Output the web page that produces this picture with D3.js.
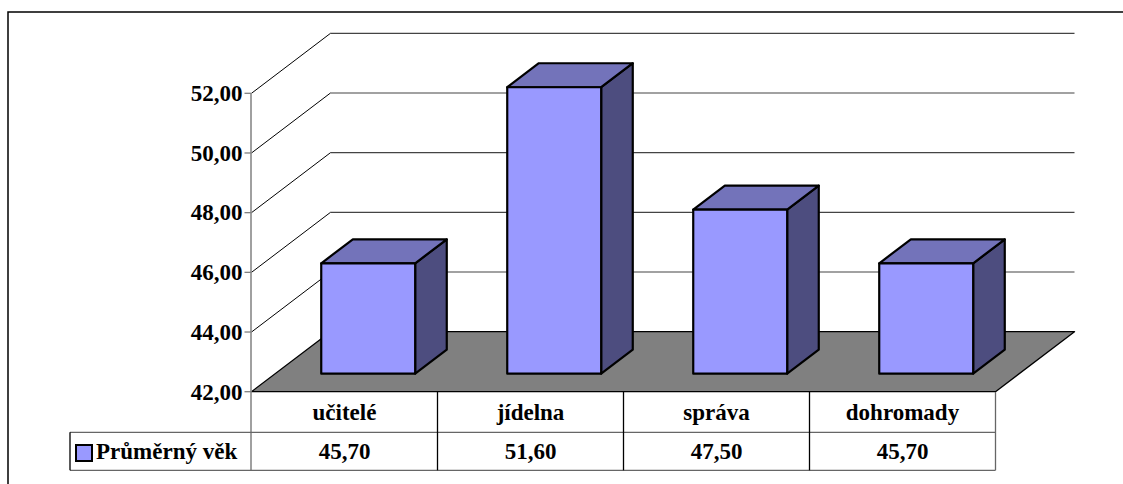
<!DOCTYPE html>
<html>
<head>
<meta charset="utf-8">
<script src="https://cdn.jsdelivr.net/npm/d3@7"></script>
<style>
  html, body { margin: 0; padding: 0; background: #fff; }
  svg { display: block; }
</style>
</head>
<body>
<svg id="chart" width="1123" height="484"></svg>
<script>
// ---- data ----
const categories = ["učitelé", "jídelna", "správa", "dohromady"];
const values = [45.7, 51.6, 47.5, 45.7];
const seriesName = "Průměrný věk";
const tickValues = [42, 44, 46, 48, 50, 52];
const valueLabels = ["45,70", "51,60", "47,50", "45,70"];

// ---- layout ----
const FONT = "Liberation Serif";
const svg = d3.select("#chart");
const W = 1123, H = 484;
const plotLeft = 251.5, plotRight = 995.5;
const depthDX = 79, depthDY = -60;      // full depth offset of the 3D box
const barD0 = 0.3, barD1 = 0.7;         // bar front/back depth fraction
const tableTop = 392, rowSep = 432.3, tableBottom = 470.3, legendLeft = 70;

const y = d3.scaleLinear().domain([42, 52]).range([391.7, 93.3]);
const xBand = d3.scaleBand().domain(categories).range([plotLeft, plotRight])
  .paddingInner(0.495).paddingOuter(0.2475);
const xCol = d3.scaleBand().domain(categories).range([plotLeft, plotRight]);

const fmt = v => d3.format(".2f")(v).replace(".", ",");

function P(x, v, d) { return [x + depthDX * d, y(v) + depthDY * d]; }
const poly = pts => "M" + pts.map(p => p.join(",")).join("L") + "Z";

function txt(sel) {
  return sel.attr("font-family", FONT).attr("font-weight", "bold").attr("fill", "#000").attr("font-size", 23);
}

// outer border
svg.append("rect").attr("x", 8).attr("y", 12).attr("width", W + 20).attr("height", H + 20)
  .attr("fill", "none").attr("stroke", "#000").attr("stroke-width", 1.5);

// back wall gridlines
const g = svg.append("g");
g.selectAll("line.back").data(tickValues.slice(1)).join("line")
  .attr("x1", d => P(plotLeft, d, 1)[0]).attr("x2", d => P(plotRight, d, 1)[0])
  .attr("y1", d => P(plotLeft, d, 1)[1]).attr("y2", d => P(plotRight, d, 1)[1])
  .attr("stroke", "#444").attr("stroke-width", 1.2);
// side wall diagonals
g.selectAll("line.side").data(tickValues.slice(1)).join("line")
  .attr("x1", d => P(plotLeft, d, 0)[0]).attr("x2", d => P(plotLeft, d, 1)[0])
  .attr("y1", d => P(plotLeft, d, 0)[1]).attr("y2", d => P(plotLeft, d, 1)[1])
  .attr("stroke", "#000").attr("stroke-width", 1);

// floor
svg.append("path")
  .attr("d", poly([P(plotLeft, 42, 0), P(plotRight, 42, 0), P(plotRight, 42, 1), P(plotLeft, 42, 1)]))
  .attr("fill", "#808080").attr("stroke", "#000").attr("stroke-width", 1.3).attr("stroke-linejoin", "round");

// bars
const bars = svg.append("g");
categories.forEach((c, i) => {
  const v = values[i];
  const x0 = xBand(c), x1 = xBand(c) + xBand.bandwidth();
  const bg = bars.append("g").attr("stroke", "#000").attr("stroke-width", 2.2).attr("stroke-linejoin", "round");
  bg.append("path").attr("d", poly([P(x1, 42, barD0), P(x1, 42, barD1), P(x1, v, barD1), P(x1, v, barD0)]))
    .attr("fill", "#4D4D7F");
  bg.append("path").attr("d", poly([P(x0, v, barD0), P(x1, v, barD0), P(x1, v, barD1), P(x0, v, barD1)]))
    .attr("fill", "#7373BA");
  bg.append("path").attr("d", poly([P(x0, 42, barD0), P(x1, 42, barD0), P(x1, v, barD0), P(x0, v, barD0)]))
    .attr("fill", "#9999FF");
});

// value axis
const axisG = svg.append("g");
axisG.append("line").attr("x1", plotLeft - 0.5).attr("x2", plotLeft - 0.5)
  .attr("y1", y(52)).attr("y2", tableBottom).attr("stroke", "#808080").attr("stroke-width", 1.5);
axisG.selectAll("line.tick").data(tickValues).join("line")
  .attr("x1", plotLeft - 7).attr("x2", plotLeft).attr("y1", d => y(d)).attr("y2", d => y(d))
  .attr("stroke", "#808080").attr("stroke-width", 1.3);
txt(axisG.selectAll("text").data(tickValues).join("text"))
  .attr("x", plotLeft - 9).attr("y", d => y(d)).attr("dy", "0.34em")
  .attr("text-anchor", "end").text(d => fmt(d));

// data table
const t = svg.append("g");
t.append("line").attr("x1", legendLeft).attr("x2", plotRight).attr("y1", rowSep).attr("y2", rowSep)
  .attr("stroke", "#666").attr("stroke-width", 1.3);
t.append("line").attr("x1", legendLeft).attr("x2", plotRight).attr("y1", tableBottom).attr("y2", tableBottom)
  .attr("stroke", "#666").attr("stroke-width", 1.3);
t.append("line").attr("x1", legendLeft).attr("x2", legendLeft).attr("y1", rowSep).attr("y2", tableBottom)
  .attr("stroke", "#000").attr("stroke-width", 1.3);
t.selectAll("line.col").data(categories.slice(1)).join("line")
  .attr("x1", d => xCol(d)).attr("x2", d => xCol(d)).attr("y1", tableTop).attr("y2", tableBottom)
  .attr("stroke", "#000").attr("stroke-width", 1.3);
t.append("line").attr("x1", plotRight).attr("x2", plotRight).attr("y1", tableTop).attr("y2", tableBottom)
  .attr("stroke", "#666").attr("stroke-width", 1.3);
txt(t.selectAll("text.h").data(categories).join("text"))
  .attr("x", d => xCol(d) + xCol.bandwidth() / 2).attr("y", (tableTop + rowSep) / 2).attr("dy", "0.32em")
  .attr("text-anchor", "middle").text(d => d);
txt(t.selectAll("text.v").data(categories).join("text"))
  .attr("x", d => xCol(d) + xCol.bandwidth() / 2).attr("y", (rowSep + tableBottom) / 2).attr("dy", "0.34em")
  .attr("text-anchor", "middle").text((d, i) => valueLabels[i]);
t.append("rect").attr("x", 76).attr("y", 445).attr("width", 16).attr("height", 16)
  .attr("fill", "#9999FF").attr("stroke", "#000").attr("stroke-width", 2);
txt(t.append("text")).attr("x", 96).attr("y", (rowSep + tableBottom) / 2).attr("dy", "0.34em")
  .text(seriesName);
</script>
</body>
</html>
